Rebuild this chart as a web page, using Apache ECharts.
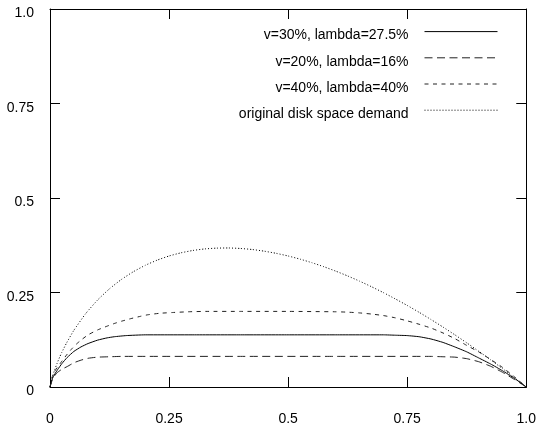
<!DOCTYPE html>
<html>
<head>
<meta charset="utf-8">
<script src="https://cdn.jsdelivr.net/npm/echarts@6/dist/echarts.min.js"></script>
<style>
html,body{margin:0;padding:0;background:#fff;}
#chart{width:539px;height:426px;}
</style>
</head>
<body>
<div id="chart"></div>
<script>
// ---- data ----
var seriesNames = ['v=30%, lambda=27.5%', 'v=20%, lambda=16%', 'v=40%, lambda=40%', 'original disk space demand'];

var v30X = [0, 0.005, 0.01, 0.016, 0.025, 0.036, 0.05, 0.065, 0.08, 0.1, 0.12, 0.135, 0.16, 0.2, 0.25, 0.3, 0.4, 0.5, 0.6, 0.7, 0.725, 0.75, 0.775, 0.8, 0.825, 0.85, 0.875, 0.9, 0.925, 0.95, 0.975, 1.0];
var v30Y = [0, 0.022, 0.034, 0.046, 0.062, 0.078, 0.094, 0.106, 0.115, 0.124, 0.130, 0.133, 0.136, 0.138, 0.138, 0.138, 0.138, 0.138, 0.138, 0.138, 0.137, 0.136, 0.133, 0.127, 0.118, 0.106, 0.093, 0.077, 0.061, 0.043, 0.023, 0];

var v20X = [0, 0.005, 0.01, 0.015, 0.025, 0.036, 0.05, 0.065, 0.08, 0.1, 0.125, 0.15, 0.2, 0.4, 0.6, 0.8, 0.825, 0.85, 0.875, 0.9, 0.925, 0.95, 0.975, 1.0];
var v20Y = [0, 0.02, 0.03, 0.038, 0.047, 0.054, 0.064, 0.071, 0.076, 0.079, 0.080, 0.081, 0.081, 0.081, 0.081, 0.081, 0.080, 0.079, 0.075, 0.067, 0.055, 0.039, 0.020, 0];

var v40X = [0, 0.005, 0.01, 0.023, 0.035, 0.045, 0.055, 0.065, 0.08, 0.1, 0.12, 0.135, 0.15, 0.17, 0.19, 0.205, 0.23, 0.257, 0.29, 0.327, 0.4, 0.5, 0.6, 0.625, 0.65, 0.675, 0.7, 0.725, 0.75, 0.775, 0.8, 0.825, 0.85, 0.875, 0.9, 0.925, 0.95, 0.975, 1.0];
var v40Y = [0, 0.028, 0.042, 0.065, 0.085, 0.1, 0.113, 0.124, 0.138, 0.151, 0.161, 0.168, 0.174, 0.181, 0.187, 0.191, 0.195, 0.197, 0.199, 0.2, 0.2, 0.2, 0.199, 0.198, 0.196, 0.193, 0.189, 0.183, 0.175, 0.166, 0.156, 0.143, 0.128, 0.11, 0.093, 0.073, 0.052, 0.027, 0];

var origX = [0, 0.002, 0.005, 0.01, 0.015, 0.02, 0.025, 0.035, 0.05, 0.075, 0.1, 0.125, 0.15, 0.175, 0.2, 0.225, 0.25, 0.275, 0.3, 0.325, 0.35, 0.375, 0.4, 0.425, 0.45, 0.475, 0.5, 0.525, 0.55, 0.575, 0.6, 0.625, 0.65, 0.675, 0.7, 0.725, 0.75, 0.775, 0.8, 0.825, 0.85, 0.875, 0.9, 0.925, 0.95, 0.975, 1.0];
var origY = [0, 0.0124, 0.0265, 0.0461, 0.063, 0.0782, 0.0922, 0.117, 0.1498, 0.1943, 0.2303, 0.2599, 0.2846, 0.305, 0.3219, 0.3356, 0.3466, 0.355, 0.3612, 0.3653, 0.3674, 0.3678, 0.3665, 0.3637, 0.3593, 0.3536, 0.3466, 0.3383, 0.3288, 0.3182, 0.3065, 0.2938, 0.28, 0.2653, 0.2497, 0.2331, 0.2158, 0.1976, 0.1785, 0.1587, 0.1381, 0.1168, 0.0948, 0.0721, 0.0487, 0.0247, 0];

var tickLabels = {'0': '0', '0.25': '0.25', '0.5': '0.5', '0.75': '0.75', '1': '1.0'};

function pairs(xs, ys) { return xs.map(function (x, i) { return [x, ys[i]]; }); }

var FONT = '"Liberation Sans", Arial, Helvetica, sans-serif';
function fmt(v) { return tickLabels[String(v)] !== undefined ? tickLabels[String(v)] : String(v); }

function mkAxis(pos, isX, showLabel) {
  var a = {
    type: 'value', min: 0, max: 1, interval: 0.25, position: pos,
    axisLine: { show: true, onZero: false, lineStyle: { color: '#000', width: 1 } },
    axisTick: { show: true, inside: true, length: 10, lineStyle: { color: '#000', width: 1 } },
    splitLine: { show: false },
    axisLabel: { show: showLabel, color: '#000', fontSize: 14, fontFamily: FONT, formatter: fmt }
  };
  if (isX) { a.axisLabel.margin = 25; }
  else { a.axisLabel.margin = 16; a.axisLabel.verticalAlign = 'top'; a.axisLabel.lineHeight = 9; }
  return a;
}

var lineStyles = [
  { color: '#000', width: 1, type: 'solid' },
  { color: '#222', width: 1, type: [8, 4.5] },
  { color: '#222', width: 1, type: [4, 4.5] },
  { color: '#000', width: 1, type: [1, 2] }
];
var datas = [pairs(v30X, v30Y), pairs(v20X, v20Y), pairs(v40X, v40Y), pairs(origX, origY)];

var chart = echarts.init(document.getElementById('chart'), null, { renderer: 'canvas' });
chart.setOption({
  animation: false,
  backgroundColor: '#fff',
  grid: { left: 50, right: 10, top: 9, bottom: 39, containLabel: false },
  xAxis: [mkAxis('bottom', true, true), mkAxis('top', true, false)],
  yAxis: [mkAxis('left', false, true), mkAxis('right', false, false)],
  legend: {
    orient: 'vertical', right: 41, top: 26, align: 'right', padding: 0,
    itemWidth: 73, itemHeight: 14, itemGap: 9.6,
    selectedMode: false,
    lineStyle: { width: 1 },
    itemStyle: { opacity: 0, borderWidth: 0 },
    formatter: function (name) { return '{t|' + name + '}'; },
    textStyle: {
      color: '#000', fontSize: 14, fontFamily: FONT,
      rich: { t: { color: '#000', fontSize: 14, fontFamily: FONT, padding: [8, 11, 0, 0] } }
    },
    data: seriesNames
  },
  series: seriesNames.map(function (name, i) {
    return {
      name: name, type: 'line', xAxisIndex: 0, yAxisIndex: 0,
      data: datas[i], symbol: 'none', showSymbol: false,
      smooth: 0.15,
      color: '#000',
      lineStyle: lineStyles[i]
    };
  })
});
</script>
</body>
</html>
